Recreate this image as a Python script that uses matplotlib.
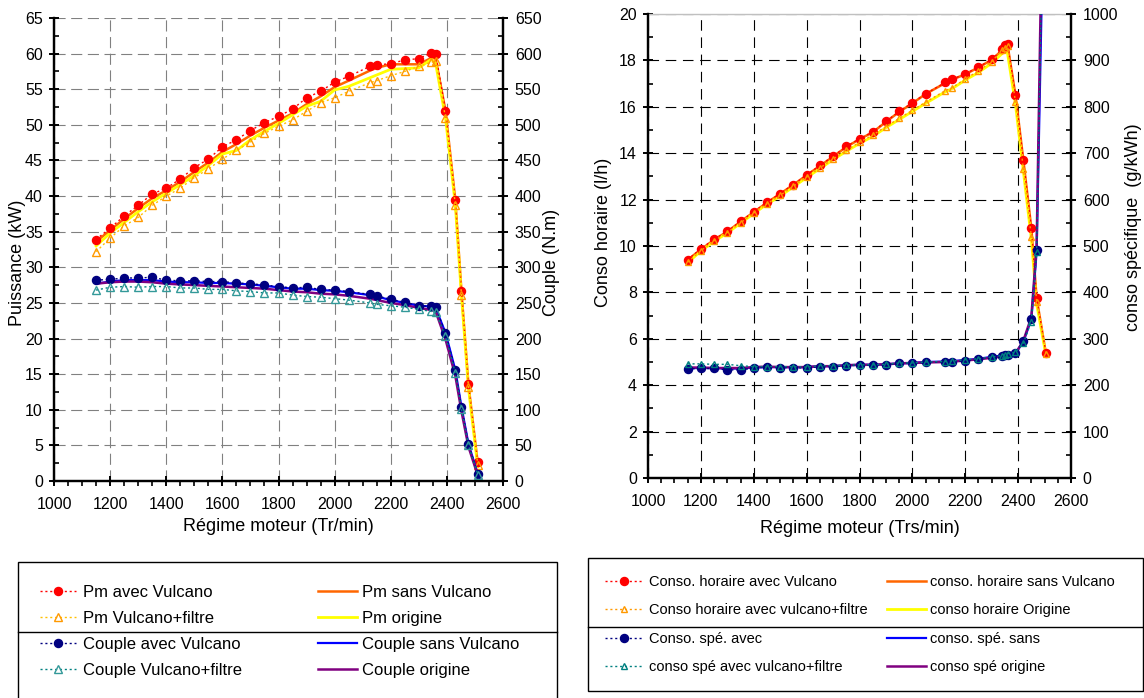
import matplotlib.pyplot as plt
from matplotlib.ticker import MultipleLocator
from matplotlib.patches import Rectangle
from matplotlib.lines import Line2D

plt.rcParams['font.family'] = ['Liberation Sans', 'DejaVu Sans']

# Graphe 1 : puissance et couple
regime_pm = [1150, 1200, 1250, 1300, 1350, 1400, 1450, 1500, 1550, 1600, 1650, 1700, 1750, 1800, 1850,
             1900, 1950, 2000, 2050, 2125, 2150, 2200, 2250, 2300, 2345, 2360, 2395, 2430, 2452, 2477, 2510]
pm_avec = [33.9, 35.5, 37.2, 38.7, 40.3, 41.1, 42.4, 44.0, 45.2, 46.9, 47.9, 49.2, 50.3, 51.2, 52.2,
           53.8, 54.7, 56.0, 56.8, 58.2, 58.4, 58.6, 59.1, 59.3, 60.1, 60.0, 52.0, 39.5, 26.7, 13.6, 2.6]
pm_sans = [33.6, 35.2, 36.8, 38.3, 39.7, 40.8, 42.0, 43.4, 44.7, 46.2, 47.3, 48.5, 49.6, 50.6, 51.6,
           52.9, 54.0, 55.3, 56.2, 57.6, 58.0, 58.5, 58.5, 58.5, 59.4, 59.3, 52.0, 39.5, 26.6, 13.5, 2.5]
pm_filtre = [32.2, 34.1, 35.8, 37.0, 38.7, 40.0, 41.1, 42.6, 43.8, 45.2, 46.4, 47.6, 48.8, 49.8, 50.7,
             51.9, 53.1, 53.8, 54.7, 55.9, 56.2, 56.9, 57.5, 58.2, 58.8, 58.9, 51.0, 38.8, 26.1, 13.2, 2.3]
pm_origine = [33.0, 34.8, 36.3, 37.8, 39.2, 40.4, 41.6, 42.9, 44.3, 45.9, 46.4, 47.9, 49.1, 50.2, 51.4,
              52.6, 53.3, 54.9, 55.4, 56.6, 57.0, 57.8, 57.9, 58.0, 59.2, 58.6, 51.0, 38.8, 26.0, 13.0, 2.0]
couple_avec = [282, 283, 285, 285, 286, 282, 281, 281, 280, 280, 278, 277, 275, 273, 271,
               272, 269, 268, 266, 262, 260, 255, 251, 246, 245, 244, 208, 156, 104, 52, 10]
couple_sans = [277, 280, 282, 282, 282, 280, 279, 279, 278, 278, 277, 276, 274, 272, 270,
               270, 268, 267, 265, 261, 259, 254, 250, 246, 245, 243, 208, 156, 104, 52, 10]
couple_filtre = [268, 272, 273, 272, 273, 273, 271, 271, 269, 269, 267, 266, 264, 264, 261,
                 259, 258, 256, 254, 250, 248, 246, 244, 241, 238, 237, 203, 152, 101, 50, 9]
couple_origine = [277, 279, 280, 280, 279, 277, 276, 275, 274, 273, 272, 271, 270, 268, 266,
                  265, 263, 262, 260, 256, 254, 250, 247, 243, 240, 238, 199, 148, 98, 48, 8]

# Graphe 2 : consommations
regime_conso = [1150, 1200, 1250, 1300, 1350, 1400, 1450, 1500, 1550, 1600, 1650, 1700, 1750, 1800, 1850, 1900,
                1950, 2000, 2050, 2125, 2150, 2200, 2250, 2300, 2340, 2350, 2360, 2390, 2420, 2450, 2470, 2505]
ch_avec = [9.41, 9.88, 10.29, 10.63, 11.06, 11.48, 11.88, 12.26, 12.65, 13.06, 13.47, 13.87, 14.29, 14.62, 14.92, 15.37,
           15.80, 16.17, 16.56, 17.05, 17.18, 17.42, 17.71, 18.04, 18.47, 18.65, 18.69, 16.53, 13.70, 10.78, 7.77, 5.40]
ch_sans = [9.40, 9.85, 10.27, 10.62, 11.05, 11.46, 11.87, 12.25, 12.64, 13.05, 13.45, 13.85, 14.27, 14.60, 14.90, 15.35,
           15.78, 16.15, 16.55, 17.03, 17.17, 17.40, 17.70, 18.02, 18.45, 18.62, 18.66, 16.50, 13.68, 10.76, 7.75, 5.38]
ch_filtre = [9.30, 9.80, 10.22, 10.58, 11.00, 11.42, 11.82, 12.18, 12.58, 12.97, 13.36, 13.75, 14.12, 14.47, 14.78, 15.15,
             15.50, 15.85, 16.20, 16.70, 16.82, 17.20, 17.55, 17.95, 18.45, 18.55, 18.62, 16.20, 13.30, 10.40, 7.60, 5.35]
ch_origine = [9.28, 9.78, 10.20, 10.56, 10.98, 11.40, 11.80, 12.15, 12.55, 12.95, 13.33, 13.72, 14.08, 14.42, 14.72, 15.10,
              15.45, 15.80, 16.15, 16.65, 16.78, 17.15, 17.48, 17.88, 18.30, 18.40, 18.30, 16.10, 13.20, 10.30, 7.50, 5.30]
cs_avec = [235, 236, 236, 233, 233, 237, 239, 238, 238, 237, 240, 240, 242, 243, 243, 244,
           247, 247, 249, 250, 250, 253, 256, 260, 264, 265, 266, 270, 295, 343, 491, 1600]
cs_sans = [237, 237, 237, 236, 236, 238, 239, 239, 239, 239, 241, 241, 243, 244, 244, 245,
           247, 248, 250, 251, 252, 254, 257, 261, 264, 265, 266, 269, 294, 342, 488, 1480]
cs_filtre = [246, 246, 245, 245, 242, 240, 240, 240, 240, 239, 242, 242, 243, 244, 244, 245,
             248, 248, 250, 251, 252, 255, 257, 261, 264, 266, 268, 271, 291, 337, 487, 1580]
cs_origine = [238, 238, 237, 237, 237, 239, 240, 239, 239, 239, 241, 241, 243, 244, 244, 245,
              247, 248, 249, 250, 251, 253, 256, 259, 262, 263, 264, 268, 296, 347, 500, 1700]

W, H = 1144, 698
fig = plt.figure(figsize=(W / 100, H / 100), dpi=100)

pointille = (0, (1.5, 2))


def mise_en_forme(ax, ax2, y_max, y_pas, y2_max, y2_pas, grille, tirets):
    ax.set_xlim(1000, 2600)
    ax.set_xticks(range(1000, 2601, 200))
    ax.xaxis.set_minor_locator(MultipleLocator(50))
    ax.set_ylim(0, y_max)
    ax.yaxis.set_major_locator(MultipleLocator(y_pas))
    ax.yaxis.set_minor_locator(MultipleLocator(y_pas / 2))
    ax2.set_ylim(0, y2_max)
    ax2.yaxis.set_major_locator(MultipleLocator(y2_pas))
    ax2.yaxis.set_minor_locator(MultipleLocator(y2_pas / 2))
    ax.set_axisbelow(True)
    ax.grid(True, which='major', color=grille, linestyle=(0, tirets), linewidth=0.8)
    for a in (ax, ax2):
        for cote in ('left', 'right', 'bottom'):
            a.spines[cote].set_linewidth(1.6)
        a.spines['top'].set_visible(False)
    ax.tick_params(axis='x', which='major', direction='inout', length=7, width=1.4, pad=8, labelsize=11.5)
    ax.tick_params(axis='x', which='minor', direction='out', length=3.5, width=1.2)
    ax.tick_params(axis='y', which='major', direction='inout', length=7, width=1.4, pad=4.5, labelsize=11.5)
    ax.tick_params(axis='y', which='minor', direction='in', length=3.5, width=1.2)
    ax2.tick_params(axis='y', which='major', direction='inout', length=7, width=1.4, pad=5, labelsize=11.5)
    ax2.tick_params(axis='y', which='minor', direction='in', length=3.5, width=1.2)


# ---------- Graphe puissance / couple ----------
ax1 = fig.add_axes([54 / W, 1 - 481 / H, 449 / W, 463 / H])
ax1b = ax1.twinx()
mise_en_forme(ax1, ax1b, 65, 5, 650, 50, '#808080', (10, 5))

l_pm_sans, = ax1.plot(regime_pm, pm_sans, color='#FF6600', lw=1.8)
l_pm_orig, = ax1.plot(regime_pm, pm_origine, color='#FFFF00', lw=2.0)
l_pm_avec, = ax1.plot(regime_pm, pm_avec, color='#FF0000', ls=pointille, lw=1,
                      marker='o', ms=5.8, mfc='#FF0000', mec='#FF0000')
l_pm_filt, = ax1.plot(regime_pm, pm_filtre, color='#FFC000', ls=pointille, lw=1,
                      marker='^', ms=6, mfc='none', mec='#FF9900', mew=1)

l_c_sans, = ax1b.plot(regime_pm, couple_sans, color='#0000FF', lw=1.6)
l_c_orig, = ax1b.plot(regime_pm, couple_origine, color='#800080', lw=1.8)
l_c_avec, = ax1b.plot(regime_pm, couple_avec, color='#000080', ls=pointille, lw=1,
                      marker='o', ms=5.8, mfc='#000080', mec='#000080')
l_c_filt, = ax1b.plot(regime_pm, couple_filtre, color='#008080', ls=pointille, lw=1,
                      marker='^', ms=6, mfc='none', mec='#339999', mew=1)

ax1.set_xlabel('Régime moteur (Tr/min)', fontsize=13)
ax1.xaxis.set_label_coords(0.5, -0.099)
ax1.xaxis.label.set_va('center')
ax1.set_ylabel('Puissance (kW)', fontsize=13)
ax1.yaxis.set_label_coords(-0.082, 0.471)
ax1.yaxis.label.set_va('center')
ax1b.set_ylabel('Couple (N.m)', fontsize=13)
ax1b.yaxis.set_label_coords(1.109, 0.473)
ax1b.yaxis.label.set_va('center')

# ---------- Graphe consommations ----------
ax2 = fig.add_axes([648 / W, 1 - 478 / H, 423 / W, 464 / H])
ax2b = ax2.twinx()
mise_en_forme(ax2, ax2b, 20, 2, 1000, 100, '#000000', (9.5, 6))
ax2.spines['top'].set_visible(True)
ax2.spines['top'].set_color('#C0C0C0')
ax2.spines['top'].set_linewidth(1)

l_ch_sans, = ax2.plot(regime_conso, ch_sans, color='#FF6600', lw=1.8)
l_ch_orig, = ax2.plot(regime_conso, ch_origine, color='#FFFF00', lw=2.0)
l_ch_avec, = ax2.plot(regime_conso, ch_avec, color='#FF0000', ls=pointille, lw=1,
                      marker='o', ms=5.8, mfc='#FF0000', mec='#FF0000')
l_ch_filt, = ax2.plot(regime_conso, ch_filtre, color='#FF9900', ls=pointille, lw=1,
                      marker='^', ms=4, mfc='none', mec='#FF9900', mew=1)

l_cs_sans, = ax2b.plot(regime_conso, cs_sans, color='#0000FF', lw=1.6)
l_cs_orig, = ax2b.plot(regime_conso, cs_origine, color='#800080', lw=1.8)
l_cs_avec, = ax2b.plot(regime_conso, cs_avec, color='#000080', ls=pointille, lw=1,
                       marker='o', ms=5.8, mfc='#000080', mec='#000080')
l_cs_filt, = ax2b.plot(regime_conso, cs_filtre, color='#008080', ls=pointille, lw=1,
                       marker='^', ms=5, mfc='none', mec='#008080', mew=1)

ax2.set_xlabel('Régime moteur (Trs/min)', fontsize=13)
ax2.xaxis.set_label_coords(0.5, -0.108)
ax2.xaxis.label.set_va('center')
ax2.set_ylabel('Conso horaire (l/h)', fontsize=13)
ax2.yaxis.set_label_coords(-0.106, 0.53)
ax2.yaxis.label.set_va('center')
ax2b.set_ylabel('conso spécifique  (g/kWh)', fontsize=13)
ax2b.yaxis.set_label_coords(1.147, 0.54)
ax2b.yaxis.label.set_va('center')

# ---------- Légendes ----------
def legende(handles, x, y, taille, long_trait, ecart_texte, ecart_lignes):
    fig.legend(handles=handles, labels=[h.get_label() for h in handles], loc='upper left',
               bbox_to_anchor=(x / W, 1 - y / H), frameon=False, borderpad=0, borderaxespad=0,
               fontsize=taille, handlelength=long_trait, handletextpad=ecart_texte,
               labelspacing=ecart_lignes, numpoints=1)


l_pm_avec.set_label('Pm avec Vulcano')
l_pm_filt.set_label('Pm Vulcano+filtre')
l_c_avec.set_label('Couple avec Vulcano')
l_c_filt.set_label('Couple Vulcano+filtre')
l_pm_sans.set_label('Pm sans Vulcano')
l_pm_orig.set_label('Pm origine')
l_c_sans.set_label('Couple sans Vulcano')
l_c_orig.set_label('Couple origine')

legende([l_pm_avec, l_pm_filt, l_c_avec, l_c_filt], 40, 585, 12, 2.16, 0.42, 0.66)
legende([l_pm_sans, l_pm_orig, l_c_sans, l_c_orig], 318, 585, 12, 2.34, 0.3, 0.66)
fig.add_artist(Rectangle((18 / W, 1 - 710 / H), 539 / W, 148 / H, transform=fig.transFigure,
                         fill=False, ec='black', lw=1))
fig.add_artist(Line2D([18 / W, 557 / W], [1 - 632 / H, 1 - 632 / H], transform=fig.transFigure,
                      color='black', lw=1))

l_ch_avec.set_label('Conso. horaire avec Vulcano')
l_ch_filt.set_label('Conso horaire avec vulcano+filtre')
l_cs_avec.set_label('Conso. spé. avec')
l_cs_filt.set_label('conso spé avec vulcano+filtre')
l_ch_sans.set_label('conso. horaire sans Vulcano')
l_ch_orig.set_label('conso horaire Origine')
l_cs_sans.set_label('conso. spé. sans')
l_cs_orig.set_label('conso spé origine')

legende([l_ch_avec, l_ch_filt, l_cs_avec, l_cs_filt], 605, 575, 10.5, 2.54, 0.48, 0.99)
legende([l_ch_sans, l_ch_orig, l_cs_sans, l_cs_orig], 887, 575, 10.5, 2.67, 0.27, 0.99)
fig.add_artist(Rectangle((588 / W, 1 - 691 / H), 555 / W, 133 / H, transform=fig.transFigure,
                         fill=False, ec='black', lw=1))
fig.add_artist(Line2D([588 / W, 1143 / W], [1 - 627 / H, 1 - 627 / H], transform=fig.transFigure,
                      color='black', lw=1))

fig.savefig('out.png', dpi=100)
